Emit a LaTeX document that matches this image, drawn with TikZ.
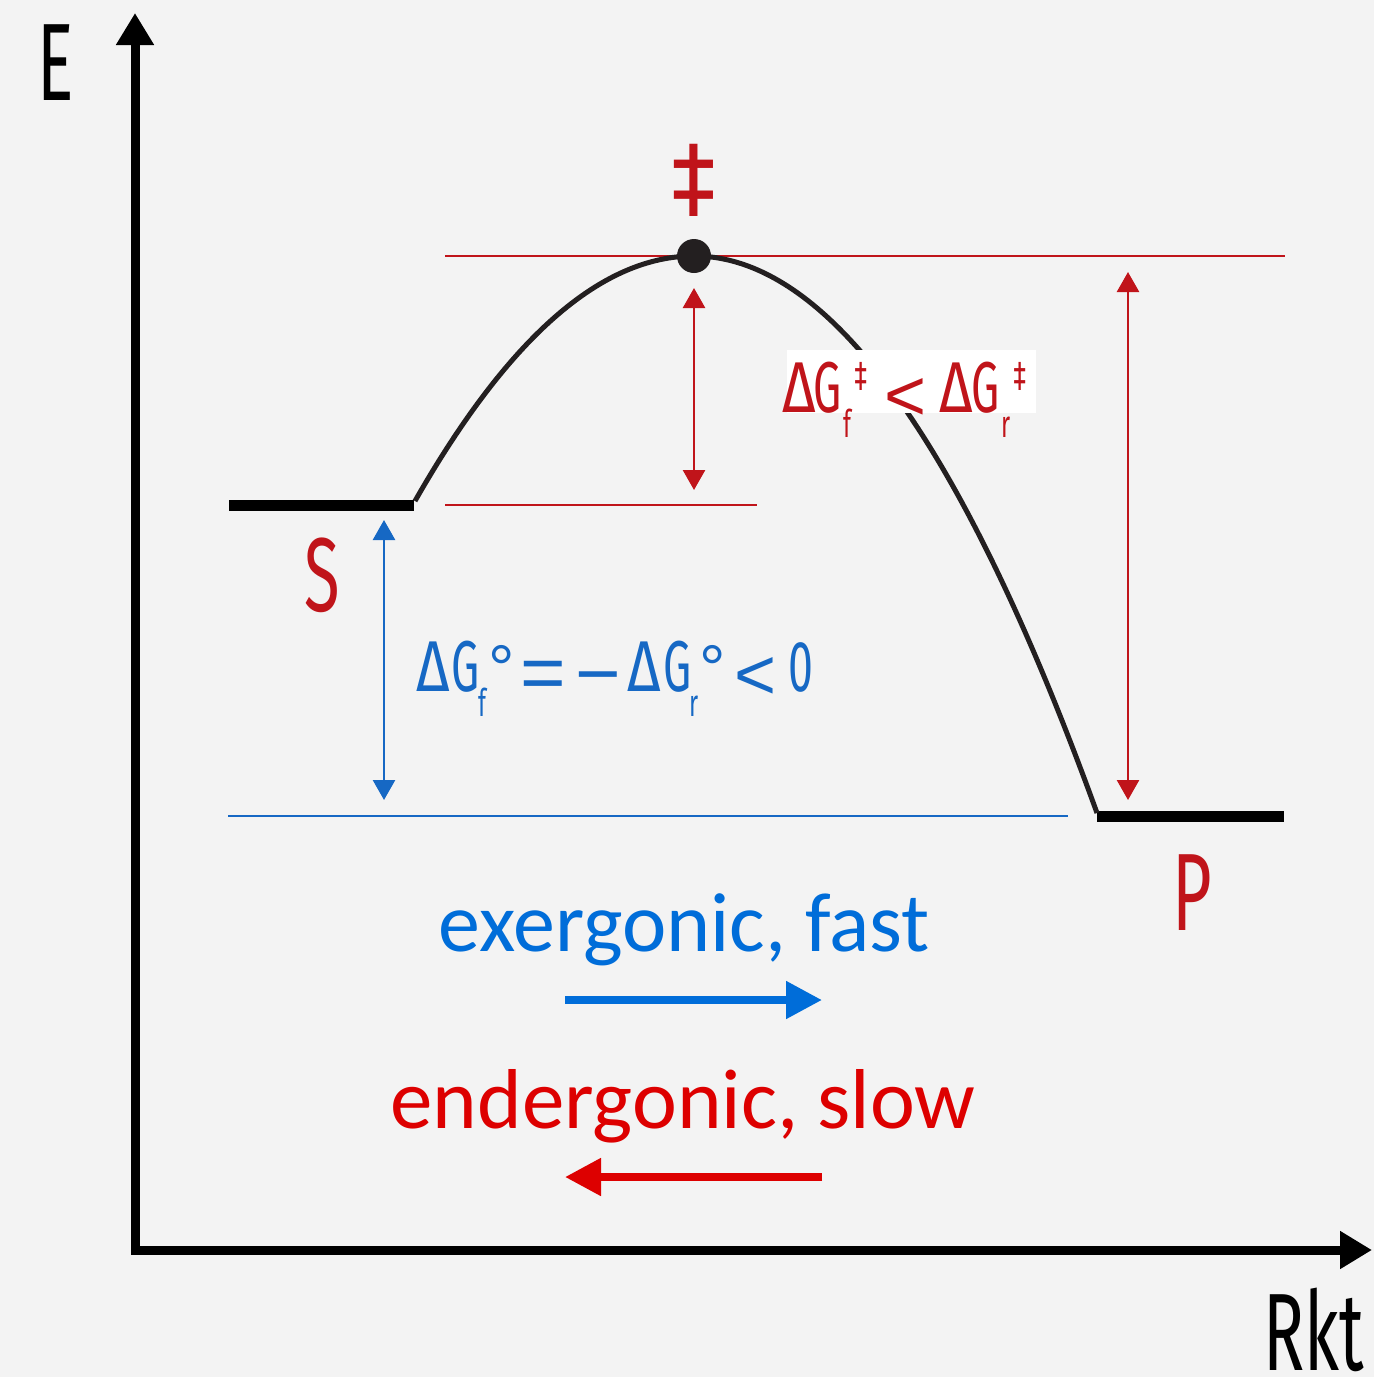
\documentclass[tikz,border=0pt]{standalone}
\usepackage{fontspec}
\setmainfont{Fira Sans}
\newfontfamily\cf[FakeStretch=0.62]{Fira Sans}
\newfontfamily\cfd[FakeStretch=0.8]{Fira Sans}
\newfontfamily\cfo[FakeStretch=0.85]{Fira Sans}
\newfontfamily\lib{Liberation Sans}
\newfontfamily\calf{Carlito}
\usetikzlibrary{arrows.meta}
\definecolor{bg}{HTML}{F3F3F3}
\definecolor{dred}{HTML}{C0141A}
\definecolor{dblue}{HTML}{1668C4}
\definecolor{bblue}{HTML}{006DD9}
\definecolor{bred}{HTML}{DD0000}
\definecolor{ink}{HTML}{231F20}
\newcommand{\fs}[1]{\fontsize{#1}{#1}\selectfont}
\newcommand{\gl}[2]{\rlap{\hspace{#1}#2}}
\tikzset{
  axisline/.style={line width=9pt, line join=miter, {Triangle[width=36pt,length=32pt]}-{Triangle[width=36pt,length=32pt]}},
  levelline/.style={line width=11pt},
  curveline/.style={line width=5pt, ink},
  refline/.style={line width=2.6pt},
  dimarrow/.style={line width=2.6pt, {Triangle[width=22pt,length=20pt]}-{Triangle[width=22pt,length=20pt]}},
  bigarrow/.style={line width=8pt, -{Triangle[width=36pt,length=36pt]}},
  lbl/.style={inner sep=0pt, anchor=base},
}
\begin{document}
\begin{tikzpicture}[x=1pt,y=-1pt]
\fill[bg] (0,0) rectangle (1374,1377);
\useasboundingbox (0,0) rectangle (1374,1377);
% axes
\coordinate (ytop) at (135,13);
\coordinate (O) at (135,1250);
\coordinate (xend) at (1372,1250);
\draw[axisline] (ytop) -- (O) -- (xend);
\node[lbl] (E) at (56,100) {\cf\fs{110}E};
\node[lbl, anchor=base west] (Rkt) at (1263,1370) {\cf\fs{110}Rkt};
% reference lines
\coordinate (tsL) at (445,256); \coordinate (tsR) at (1285,256);
\coordinate (sL) at (445,505); \coordinate (sR) at (757,505);
\coordinate (pL) at (228,816); \coordinate (pR) at (1068,816);
\draw[refline, dred] (tsL) -- (tsR);
\draw[refline, dred] (sL) -- (sR);
\draw[refline, dblue] (pL) -- (pR);
% levels
\coordinate (S1) at (229,505); \coordinate (S2) at (414,505);
\coordinate (P1) at (1097,816); \coordinate (P2) at (1284,816);
\draw[levelline] (S1) -- (S2);
\draw[levelline] (P1) -- (P2);
% curve
\coordinate (TS) at (694,256);
\draw[curveline] (415,501) .. controls (507.3,339) and (600.7,256) .. (TS)
  .. controls (828.3,256) and (962.7,442.3) .. (1097,813);
\fill[ink] (TS) circle (17);
\node[lbl, dred] (dag) at (694,216) {\cfo\fs{108}‡};
% dimension arrows
\coordinate (a1) at (694,288); \coordinate (a2) at (694,490);
\coordinate (b1) at (1128,272); \coordinate (b2) at (1128,800);
\coordinate (c1) at (384,520); \coordinate (c2) at (384,800);
\draw[dimarrow, dred] (a1) -- (a2);
\draw[dimarrow, dred] (b1) -- (b2);
\draw[dimarrow, dblue] (c1) -- (c2);
% labels
\node[lbl, dred] (S) at (322,611) {\cf\fs{105}S};
\node[lbl, dred] (P) at (1192,930) {\cf\fs{110}P};
\fill[white] (787,350) rectangle (1036,413);
\node[lbl, anchor=base west, dred] (kin) at (782,412) {\cf\fs{72}%
  \gl{0pt}{\cfd Δ}\gl{31pt}{G}%
  \gl{61pt}{\raisebox{-25pt}{\fs{38}f}}\gl{72pt}{\raisebox{22pt}{\fs{42}‡}}%
  \gl{102pt}{\raisebox{-8pt}{\lib\fs{72}<}}%
  \gl{157pt}{\cfd Δ}\gl{189pt}{G}%
  \gl{219pt}{\raisebox{-25pt}{\fs{38}r}}\gl{231pt}{\raisebox{22pt}{\fs{42}‡}}%
  \hspace{250pt}};
\node[lbl, anchor=base west, dblue] (thermo) at (416,691) {\cf\fs{72}%
  \gl{0pt}{\cfd Δ}\gl{35pt}{G}%
  \gl{62pt}{\raisebox{-25pt}{\fs{38}f}}\gl{72pt}{\lib\fs{66}°}%
  \gl{104pt}{\raisebox{-8pt}{\lib\fs{78}=}}\gl{159pt}{\raisebox{-9pt}{\lib\fs{78}−}}%
  \gl{211pt}{\cfd Δ}\gl{247pt}{G}%
  \gl{273pt}{\raisebox{-25pt}{\fs{38}r}}\gl{283pt}{\lib\fs{66}°}%
  \gl{318pt}{\raisebox{-8pt}{\lib\fs{72}<}}\gl{372pt}{0}%
  \hspace{400pt}};
% bottom texts and arrows
\node[lbl, bblue] (exo) at (684,951) {\calf\fs{84}exergonic, fast};
\node[lbl, bred] (endo) at (683,1128) {\calf\fs{85}endergonic, slow};
\coordinate (f1) at (565,1000); \coordinate (f2) at (822,1000);
\coordinate (r1) at (822,1177); \coordinate (r2) at (565,1177);
\draw[bigarrow, bblue] (f1) -- (f2);
\draw[bigarrow, bred] (r1) -- (r2);
\end{tikzpicture}
\end{document}
